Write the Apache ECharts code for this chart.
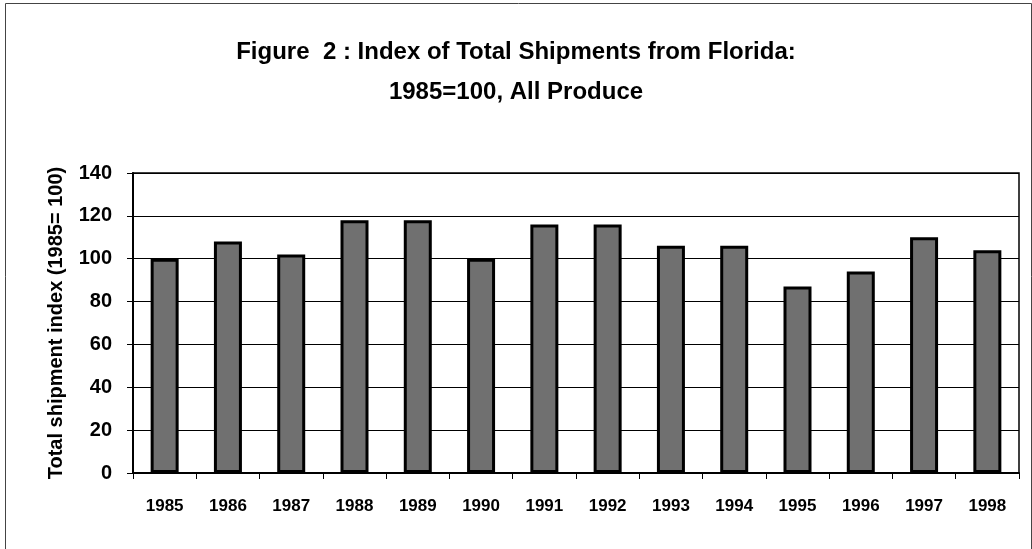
<!DOCTYPE html>
<html>
<head>
<meta charset="utf-8">
<script src="https://cdn.jsdelivr.net/npm/echarts@6/dist/echarts.min.js"></script>
<style>
html,body{margin:0;padding:0;background:#fff;}
#chart{width:1032px;height:549px;}
</style>
</head>
<body>
<div id="chart"></div>
<script>
const years = ['1985','1986','1987','1988','1989','1990','1991','1992','1993','1994','1995','1996','1997','1998'];
const shipmentIndex = [100, 108, 102, 118, 118, 100, 116, 116, 106, 106, 87, 94, 110, 104];
const yTicks = {min: 0, max: 140, interval: 20};
const titleText = 'Figure  2 : Index of Total Shipments from Florida:\n1985=100, All Produce';
const yAxisName = 'Total shipment index (1985= 100)';

const FONT = '"Liberation Sans", Arial, sans-serif';
const chart = echarts.init(document.getElementById('chart'), null, {renderer: 'canvas'});
chart.setOption({
  backgroundColor: '#fff',
  animation: false,
  graphic: [{
    type: 'rect', left: 3, top: 1,
    shape: {width: 1026, height: 600},
    style: {fill: 'none', stroke: '#444', lineWidth: 1},
    silent: true
  }],
  title: {
    text: titleText,
    left: 'center',
    top: 27,
    textStyle: {fontFamily: FONT, fontWeight: 'bold', fontSize: 24, color: '#000', lineHeight: 40}
  },
  grid: {left: 133, right: 13, top: 173, bottom: 76, show: true, borderColor: '#000', borderWidth: 1.5},
  xAxis: {
    type: 'category',
    data: years,
    axisLine: {lineStyle: {color: '#000', width: 2}},
    axisTick: {show: true, length: 6, lineStyle: {color: '#000', width: 1}},
    axisLabel: {fontFamily: FONT, fontWeight: 'bold', fontSize: 17, color: '#000', margin: 25}
  },
  yAxis: {
    type: 'value',
    min: yTicks.min, max: yTicks.max, interval: yTicks.interval,
    name: yAxisName,
    nameLocation: 'middle',
    nameGap: 67,
    nameTextStyle: {fontFamily: FONT, fontWeight: 'bold', fontSize: 20, color: '#000'},
    axisLine: {show: true, lineStyle: {color: '#000', width: 2}},
    axisTick: {show: true, length: 6, lineStyle: {color: '#000', width: 1}},
    axisLabel: {fontFamily: FONT, fontWeight: 'bold', fontSize: 20, color: '#000', margin: 21},
    splitLine: {show: true, lineStyle: {color: '#000', width: 1}}
  },
  series: [{
    type: 'bar',
    data: shipmentIndex,
    barWidth: 28,
    itemStyle: {color: '#707070', borderColor: '#000', borderWidth: 3}
  }]
});
</script>
</body>
</html>
